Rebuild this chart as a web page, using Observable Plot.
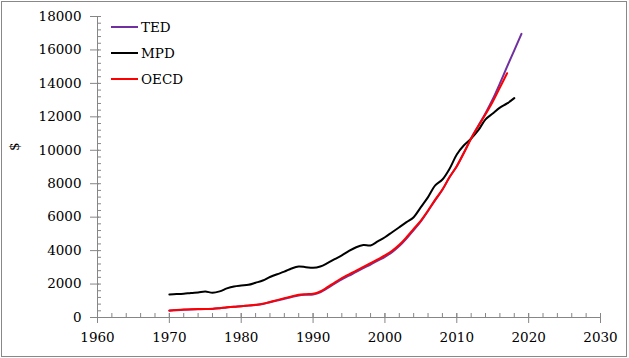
<!DOCTYPE html>
<html><head><meta charset="utf-8">
<script src="https://cdn.jsdelivr.net/npm/d3@7"></script>
<script src="https://cdn.jsdelivr.net/npm/@observablehq/plot@0.6"></script>
<style>
body{margin:0;background:#fff;}
#wrap{position:relative;width:629px;height:358px;font-family:"DejaVu Serif",serif;}
#frame{position:absolute;left:1px;top:1px;width:626px;height:356px;border:1px solid #888;box-sizing:border-box;pointer-events:none;}
#legend{position:absolute;left:111px;top:14px;font-size:13.5px;color:#000;}
#legend .item{display:flex;align-items:center;height:26px;}
#legend .sw{width:27px;height:2px;margin-right:3px;}
#chart{position:absolute;left:0;top:0;}
</style>
</head><body>
<div id="wrap"><div id="chart"></div><div id="legend"></div><div id="frame"></div></div>
<script>
const seriesNames = ["TED", "MPD", "OECD"];
const seriesColors = ["#7030A0", "#000000", "#FF0000"];

const tedYears = d3.range(1970, 2020);
const tedValues = [410,440,465,480,495,505,515,550,600,640,
  670,710,750,810,915,1020,1120,1230,1320,1360,
  1380,1500,1750,2020,2280,2500,2730,2950,3170,3400,
  3630,3910,4270,4720,5230,5750,6370,7020,7640,8400,
  9050,9870,10720,11470,12220,13050,14000,15000,15980,16960];

const mpdYears = d3.range(1970, 2019);
const mpdValues = [1375,1410,1415,1470,1500,1555,1480,1560,1740,1860,
  1915,1955,2080,2210,2420,2590,2740,2930,3050,3010,
  2970,3050,3250,3490,3710,3980,4200,4330,4310,4550,
  4800,5100,5400,5700,6000,6600,7200,7900,8250,8900,
  9750,10300,10700,11200,11850,12200,12550,12800,13120];

const oecdYears = d3.range(1970, 2018);
const oecdValues = [420,450,475,490,505,515,520,560,610,650,
  680,720,760,820,930,1040,1150,1260,1360,1395,
  1415,1555,1815,2090,2355,2580,2810,3030,3250,3480,
  3710,3990,4350,4800,5300,5800,6400,7050,7650,8400,
  9050,9850,10700,11450,12150,12900,13750,14610];

const xMajor = [1960,1970,1980,1990,2000,2010,2020,2030];
const xMinor = d3.range(1960, 2031, 2);
const yMajor = [0,2000,4000,6000,8000,10000,12000,14000,16000,18000];
const yMinor = d3.range(0, 18001, 400);
const yTitle = "$";

const toRows = (name, years, values) => years.map((yr, i) => ({series: name, year: yr, value: values[i]}));
const rows = [
  ...toRows("TED", tedYears, tedValues),
  ...toRows("MPD", mpdYears, mpdValues),
  ...toRows("OECD", oecdYears, oecdValues)
];

const axisGray = "#868686";
const chart = Plot.plot({
  width: 629, height: 358,
  marginLeft: 97, marginRight: 29, marginTop: 16, marginBottom: 41,
  style: {fontFamily: "DejaVu Serif", fontSize: "13.5px", color: "#000", background: "transparent", overflow: "visible"},
  x: {domain: [1960, 2030]},
  y: {domain: [0, 18000]},
  color: {domain: seriesNames, range: seriesColors},
  marks: [
    Plot.axisY(yMinor, {tickSize: 4, dx: 4, fill: "none", stroke: axisGray, label: null}),
    Plot.axisY(yMajor, {tickSize: 9, dx: 2, fill: "none", stroke: axisGray, label: null}),
    Plot.axisY(yMajor, {tickSize: 0, tickPadding: 16, label: null, tickFormat: d => String(d)}),
    Plot.axisX(xMinor, {anchor: "bottom", tickSize: 4, dy: -4, fill: "none", stroke: axisGray, label: null}),
    Plot.axisX(xMajor, {anchor: "bottom", tickSize: 10, dy: -4, fill: "none", stroke: axisGray, label: null}),
    Plot.axisX(xMajor, {anchor: "bottom", tickSize: 0, tickPadding: 15, label: null, tickFormat: d => String(d)}),
    Plot.ruleX([1960], {stroke: axisGray}),
    Plot.ruleY([0], {stroke: axisGray}),
    Plot.text([yTitle], {frameAnchor: "left", dx: -83, dy: -16, rotate: -90, text: d => d}),
    ...seriesNames.map(name => Plot.line(rows.filter(r => r.series === name), {
      x: "year", y: "value", stroke: "series", strokeWidth: 2, curve: "catmull-rom"
    }))
  ]
});
document.getElementById("chart").appendChild(chart);

const legend = d3.select("#legend");
seriesNames.forEach((name, i) => {
  const item = legend.append("div").attr("class", "item");
  item.append("div").attr("class", "sw").style("background", seriesColors[i]);
  item.append("span").text(name);
});
</script>
</body></html>
